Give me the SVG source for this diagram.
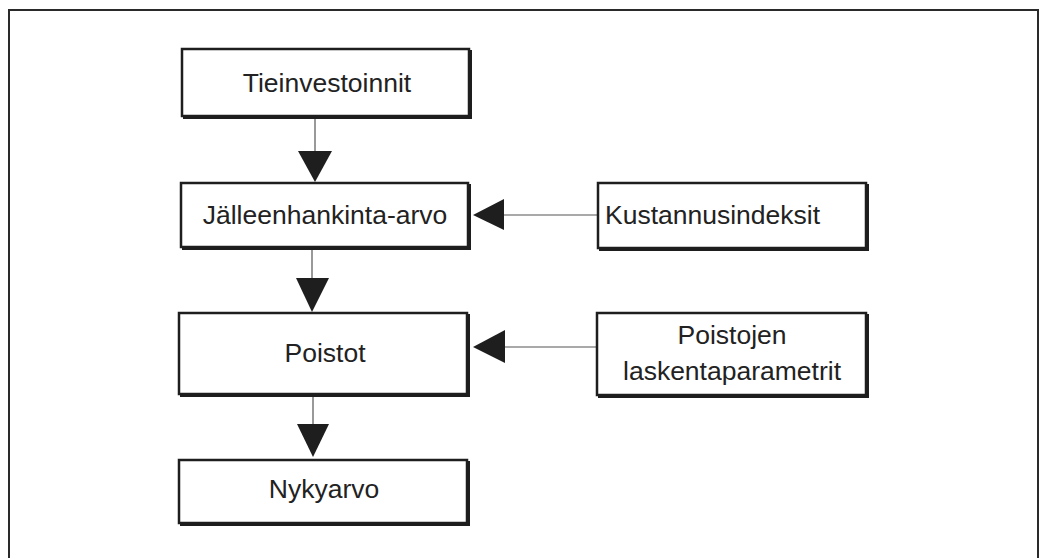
<svg xmlns="http://www.w3.org/2000/svg" width="1042" height="558" viewBox="0 0 1042 558">
<style>
.bg{fill:#fff}
.frame{fill:none;stroke:#2a2a2a;stroke-width:2}
.shadow{fill:#1e1e1e}
.box{fill:#fff;stroke:#1e1e1e;stroke-width:2.5}
.lbl{font-family:"Liberation Sans",Arial,sans-serif;font-size:26.5px;fill:#222}
.c{text-anchor:middle}
.conn{stroke:#555;stroke-width:1.2;fill:none}
.head{fill:#1e1e1e}
</style>
<rect class="bg" x="0" y="0" width="1042" height="558"/>
<rect class="frame" x="9" y="10" width="1029" height="570"/>
<g id="connectors">
  <line class="conn" x1="315" y1="118" x2="315" y2="152"/>
  <polygon class="head" points="298,151 332,151 315,182"/>
  <line class="conn" x1="312" y1="249" x2="312" y2="279"/>
  <polygon class="head" points="296,278 329,278 312,312"/>
  <line class="conn" x1="313" y1="396" x2="313" y2="425"/>
  <polygon class="head" points="297,424 329,424 313,457"/>
  <line class="conn" x1="503" y1="215" x2="598" y2="215"/>
  <polygon class="head" points="504,199 504,230 473,215"/>
  <line class="conn" x1="504" y1="347" x2="597" y2="347"/>
  <polygon class="head" points="505,330 505,363 473,347"/>
</g>
<g id="n-tieinvestoinnit">
  <rect class="shadow" x="183" y="50" width="289" height="69"/>
  <rect class="box" x="182" y="49" width="287" height="67"/>
  <text class="lbl c" x="327" y="92">Tieinvestoinnit</text>
</g>
<g id="n-jalleenhankinta">
  <rect class="shadow" x="182" y="184" width="289" height="66"/>
  <rect class="box" x="181" y="183" width="287" height="64"/>
  <text class="lbl c" x="325" y="224">Jälleenhankinta-arvo</text>
</g>
<g id="n-kustannusindeksit">
  <rect class="shadow" x="599" y="184" width="270" height="67"/>
  <rect class="box" x="598" y="183" width="268" height="65"/>
  <text class="lbl" x="605" y="224">Kustannusindeksit</text>
</g>
<g id="n-poistot">
  <rect class="shadow" x="180" y="314" width="290" height="83"/>
  <rect class="box" x="179" y="313" width="288" height="81"/>
  <text class="lbl c" x="325" y="362">Poistot</text>
</g>
<g id="n-parametrit">
  <rect class="shadow" x="598" y="314" width="271" height="84"/>
  <rect class="box" x="597" y="313" width="269" height="82"/>
  <text class="lbl c" x="732" y="344">Poistojen</text>
  <text class="lbl c" x="732" y="380">laskentaparametrit</text>
</g>
<g id="n-nykyarvo">
  <rect class="shadow" x="180" y="461" width="290" height="65"/>
  <rect class="box" x="179" y="460" width="288" height="63"/>
  <text class="lbl c" x="324" y="498">Nykyarvo</text>
</g>
</svg>
